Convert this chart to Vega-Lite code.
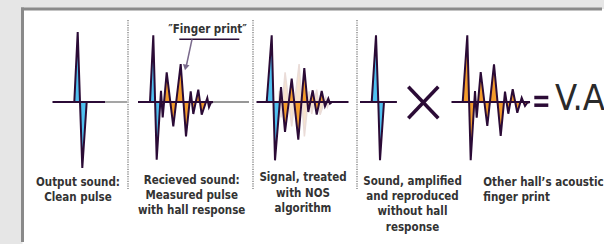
{
  "$schema": "https://vega.github.io/schema/vega-lite/v6.json",
  "width": 604,
  "height": 244,
  "autosize": {"type": "fit", "contains": "padding"},
  "padding": 0,
  "background": "#e6e6e6",
  "config": {"view": {"stroke": null}, "axis": {"disable": true}},
  "datasets": {
    "one": [{}],
    "waves": [
      {"w": "p1", "part": "direct", "t": 52.7, "a": 0},
      {"w": "p1", "part": "direct", "t": 74.3, "a": 0},
      {"w": "p1", "part": "direct", "t": 77.7, "a": 70},
      {"w": "p1", "part": "direct", "t": 80, "a": 0},
      {"w": "p1", "part": "direct", "t": 82.3, "a": -66},
      {"w": "p1", "part": "direct", "t": 86.7, "a": 0},
      {"w": "p1", "part": "direct", "t": 105, "a": 0},

      {"w": "p2", "part": "direct", "t": 138, "a": 0},
      {"w": "p2", "part": "direct", "t": 150, "a": 0},
      {"w": "p2", "part": "direct", "t": 153.3, "a": 66.6},
      {"w": "p2", "part": "direct", "t": 156.7, "a": -57.7},
      {"w": "p2", "part": "direct", "t": 160.3, "a": 0},
      {"w": "p2", "part": "reflection", "t": 160.3, "a": 0},
      {"w": "p2", "part": "reflection", "t": 161, "a": 11.3},
      {"w": "p2", "part": "reflection", "t": 162.7, "a": -15.4},
      {"w": "p2", "part": "reflection", "t": 166.7, "a": 29.6},
      {"w": "p2", "part": "reflection", "t": 173.3, "a": -24.4},
      {"w": "p2", "part": "reflection", "t": 180.7, "a": 38},
      {"w": "p2", "part": "reflection", "t": 186, "a": -34.4},
      {"w": "p2", "part": "reflection", "t": 190.7, "a": 10.6},
      {"w": "p2", "part": "reflection", "t": 193.3, "a": -12},
      {"w": "p2", "part": "reflection", "t": 198.3, "a": 12.3},
      {"w": "p2", "part": "reflection", "t": 201.7, "a": -12.7},
      {"w": "p2", "part": "reflection", "t": 207.3, "a": 4},
      {"w": "p2", "part": "reflection", "t": 209, "a": -5},
      {"w": "p2", "part": "reflection", "t": 211, "a": -0.4},
      {"w": "p2", "part": "reflection", "t": 213, "a": 0},

      {"w": "p3", "part": "direct", "t": 256.7, "a": 0},
      {"w": "p3", "part": "direct", "t": 266.7, "a": 0},
      {"w": "p3", "part": "direct", "t": 271.7, "a": 66.7},
      {"w": "p3", "part": "direct", "t": 275, "a": -58.3},
      {"w": "p3", "part": "direct", "t": 279.8, "a": 0},
      {"w": "p3", "part": "reflection", "t": 279.8, "a": 0},
      {"w": "p3", "part": "reflection", "t": 281, "a": 15},
      {"w": "p3", "part": "reflection", "t": 285, "a": -30},
      {"w": "p3", "part": "reflection", "t": 291.7, "a": 23.4},
      {"w": "p3", "part": "reflection", "t": 298.3, "a": -37.6},
      {"w": "p3", "part": "reflection", "t": 304.3, "a": 34},
      {"w": "p3", "part": "reflection", "t": 308.3, "a": -10},
      {"w": "p3", "part": "reflection", "t": 312.7, "a": 11.7},
      {"w": "p3", "part": "reflection", "t": 316.7, "a": -12.6},
      {"w": "p3", "part": "reflection", "t": 321.7, "a": 11},
      {"w": "p3", "part": "reflection", "t": 325, "a": -4.3},
      {"w": "p3", "part": "reflection", "t": 328.3, "a": 3.4},
      {"w": "p3", "part": "reflection", "t": 330, "a": -1.6},
      {"w": "p3", "part": "reflection", "t": 332, "a": 0},
      {"w": "p3", "part": "reflection", "t": 348.3, "a": 0},

      {"w": "p4", "part": "direct", "t": 360, "a": 0},
      {"w": "p4", "part": "direct", "t": 371.7, "a": 0},
      {"w": "p4", "part": "direct", "t": 376, "a": 66.7},
      {"w": "p4", "part": "direct", "t": 378.3, "a": 0},
      {"w": "p4", "part": "direct", "t": 380, "a": -58.3},
      {"w": "p4", "part": "direct", "t": 384, "a": 0},
      {"w": "p4", "part": "direct", "t": 396.7, "a": 0},

      {"w": "p5", "part": "reflection", "t": 451.7, "a": 0},
      {"w": "p5", "part": "reflection", "t": 462.7, "a": 0},
      {"w": "p5", "part": "reflection", "t": 467.3, "a": 66.7},
      {"w": "p5", "part": "reflection", "t": 470.7, "a": -58.3},
      {"w": "p5", "part": "reflection", "t": 475, "a": 11},
      {"w": "p5", "part": "reflection", "t": 476.7, "a": -15.7},
      {"w": "p5", "part": "reflection", "t": 480.7, "a": 30},
      {"w": "p5", "part": "reflection", "t": 487.3, "a": -24},
      {"w": "p5", "part": "reflection", "t": 494, "a": 37.7},
      {"w": "p5", "part": "reflection", "t": 500.7, "a": -34},
      {"w": "p5", "part": "reflection", "t": 505, "a": 10.3},
      {"w": "p5", "part": "reflection", "t": 508.3, "a": -11.7},
      {"w": "p5", "part": "reflection", "t": 512.7, "a": 12.7},
      {"w": "p5", "part": "reflection", "t": 517.3, "a": -10.7},
      {"w": "p5", "part": "reflection", "t": 521.7, "a": 4.3},
      {"w": "p5", "part": "reflection", "t": 525, "a": -4},
      {"w": "p5", "part": "reflection", "t": 527.3, "a": -0.7},
      {"w": "p5", "part": "reflection", "t": 530, "a": 0}
    ],
    "ghost": [
      {"t": 278.7, "a": 0},
      {"t": 279.4, "a": 11.3},
      {"t": 281.1, "a": -15.4},
      {"t": 285.1, "a": 29.6},
      {"t": 291.7, "a": -24.4},
      {"t": 299.1, "a": 38},
      {"t": 304.4, "a": -34.4},
      {"t": 309.1, "a": 10.6},
      {"t": 311.7, "a": -12},
      {"t": 316.7, "a": 12.3},
      {"t": 320.1, "a": -12.7},
      {"t": 325.7, "a": 4},
      {"t": 327.4, "a": -5},
      {"t": 329.4, "a": -0.4},
      {"t": 331.4, "a": 0}
    ],
    "baselines": [
      {"t": 52.7, "t2": 105, "kind": "dark"},
      {"t": 105, "t2": 127, "kind": "gray"},
      {"t": 138, "t2": 213, "kind": "dark"},
      {"t": 213, "t2": 249, "kind": "gray"},
      {"t": 256.7, "t2": 348.3, "kind": "dark"},
      {"t": 360, "t2": 396.7, "kind": "dark"},
      {"t": 451.7, "t2": 530, "kind": "dark"}
    ],
    "separators": [{"t": 128}, {"t": 253}, {"t": 357}],
    "symbols": [
      {"sym": "times", "t": 408.3, "a": 15.3, "t2": 438.3, "a2": -16.3},
      {"sym": "times", "t": 408.3, "a": -16.3, "t2": 438.3, "a2": 15.3},
      {"sym": "equals", "t": 534.3, "a": 4.5, "t2": 548.3, "a2": 4.5},
      {"sym": "equals", "t": 534.3, "a": -3.2, "t2": 548.3, "a2": -3.2}
    ],
    "labels": [
      {"text": "Output sound:", "t": 78, "a": -81},
      {"text": "Clean pulse", "t": 78, "a": -96},
      {"text": "Recieved sound:", "t": 191.7, "a": -79},
      {"text": "Measured pulse", "t": 191.7, "a": -94},
      {"text": "with hall response", "t": 191.7, "a": -109},
      {"text": "Signal, treated", "t": 303, "a": -76},
      {"text": "with NOS", "t": 303, "a": -91.5},
      {"text": "algorithm", "t": 303, "a": -107},
      {"text": "Sound, amplified", "t": 412.5, "a": -79.5},
      {"text": "and reproduced", "t": 412.5, "a": -94.5},
      {"text": "without hall", "t": 412.5, "a": -110},
      {"text": "response", "t": 412.5, "a": -125.5}
    ],
    "labelsLeft": [
      {"text": "Other hall’s acoustic", "t": 483.3, "a": -80.7},
      {"text": "finger print", "t": 483.3, "a": -95.7}
    ]
  },
  "layer": [
    {
      "data": {"name": "one"},
      "mark": {"type": "rect", "fill": "#ffffff"},
      "encoding": {
        "x": {"datum": 22.5, "type": "quantitative", "scale": {"domain": [0, 604], "nice": false, "zero": false}},
        "x2": {"datum": 604},
        "y": {"datum": 93, "type": "quantitative", "scale": {"domain": [-142, 102], "nice": false, "zero": false}},
        "y2": {"datum": -142}
      }
    },
    {
      "data": {"name": "one"},
      "mark": {"type": "rule", "stroke": "#8a8a8a", "strokeWidth": 3},
      "encoding": {
        "x": {"datum": 22.5, "type": "quantitative"},
        "y": {"datum": 94.5, "type": "quantitative"},
        "y2": {"datum": -140}
      }
    },
    {
      "data": {"name": "one"},
      "mark": {"type": "rule", "stroke": "#8a8a8a", "strokeWidth": 3},
      "encoding": {
        "x": {"datum": 21, "type": "quantitative"},
        "x2": {"datum": 602},
        "y": {"datum": 93, "type": "quantitative"}
      }
    },
    {
      "data": {"name": "separators"},
      "mark": {"type": "rule", "stroke": "#8c8c8c", "strokeWidth": 1.5, "strokeDash": [1.2, 1.2]},
      "encoding": {
        "x": {"field": "t", "type": "quantitative"},
        "y": {"datum": 82, "type": "quantitative"},
        "y2": {"datum": -87}
      }
    },
    {
      "data": {"name": "baselines"},
      "transform": [{"filter": "datum.kind === 'gray'"}],
      "mark": {"type": "rule", "stroke": "#747474", "strokeWidth": 1.3},
      "encoding": {
        "x": {"field": "t", "type": "quantitative"},
        "x2": {"field": "t2"},
        "y": {"datum": 0, "type": "quantitative"}
      }
    },
    {
      "data": {"name": "ghost"},
      "mark": {"type": "area", "fill": "#f7e2c9", "opacity": 0.95},
      "encoding": {
        "x": {"field": "t", "type": "quantitative"},
        "y": {"field": "a", "type": "quantitative"},
        "y2": {"datum": 0}
      }
    },
    {
      "data": {"name": "ghost"},
      "mark": {"type": "line", "stroke": "#eadcd8", "strokeWidth": 1.5},
      "encoding": {
        "x": {"field": "t", "type": "quantitative"},
        "y": {"field": "a", "type": "quantitative"}
      }
    },
    {
      "data": {"name": "waves"},
      "mark": {"type": "area"},
      "encoding": {
        "x": {"field": "t", "type": "quantitative"},
        "y": {"field": "a", "type": "quantitative"},
        "y2": {"datum": 0},
        "detail": [{"field": "w"}, {"field": "part"}],
        "fill": {"field": "part", "type": "nominal", "scale": {"domain": ["direct", "reflection"], "range": ["#4fc1f0", "#f49c2c"]}, "legend": null}
      }
    },
    {
      "data": {"name": "baselines"},
      "transform": [{"filter": "datum.kind === 'dark'"}],
      "mark": {"type": "rule", "stroke": "#2b0b36", "strokeWidth": 2},
      "encoding": {
        "x": {"field": "t", "type": "quantitative"},
        "x2": {"field": "t2"},
        "y": {"datum": 0, "type": "quantitative"}
      }
    },
    {
      "data": {"name": "waves"},
      "mark": {"type": "line", "stroke": "#2b0b36", "strokeWidth": 2, "strokeJoin": "miter"},
      "encoding": {
        "x": {"field": "t", "type": "quantitative"},
        "y": {"field": "a", "type": "quantitative"},
        "detail": {"field": "w"}
      }
    },
    {
      "data": {"name": "symbols"},
      "mark": {"type": "rule", "stroke": "#2b0b36", "strokeWidth": 3.5},
      "encoding": {
        "x": {"field": "t", "type": "quantitative"},
        "x2": {"field": "t2"},
        "y": {"field": "a", "type": "quantitative"},
        "y2": {"field": "a2"}
      }
    },
    {
      "data": {"name": "one"},
      "mark": {"type": "rule", "stroke": "#2b0b36", "strokeWidth": 1.5},
      "encoding": {
        "x": {"datum": 179.3, "type": "quantitative"},
        "x2": {"datum": 239.3},
        "y": {"datum": 62.7, "type": "quantitative"}
      }
    },
    {
      "data": {"name": "one"},
      "mark": {"type": "rule", "stroke": "#7a6a8c", "strokeWidth": 1.5},
      "encoding": {
        "x": {"datum": 192, "type": "quantitative"},
        "x2": {"datum": 186.3},
        "y": {"datum": 62.7, "type": "quantitative"},
        "y2": {"datum": 36}
      }
    },
    {
      "data": {"name": "one"},
      "mark": {"type": "point", "shape": "triangle-down", "filled": true, "fill": "#7a6a8c", "opacity": 1, "size": 45, "angle": 12},
      "encoding": {
        "x": {"datum": 185.6, "type": "quantitative"},
        "y": {"datum": 34.5, "type": "quantitative"}
      }
    },
    {
      "data": {"name": "labels"},
      "mark": {"type": "text", "font": "'DejaVu Sans Condensed', 'Liberation Sans Narrow', Roboto, sans-serif", "fontWeight": "bold", "fontSize": 11.5, "fill": "#333333", "align": "center", "baseline": "middle"},
      "encoding": {
        "x": {"field": "t", "type": "quantitative"},
        "y": {"field": "a", "type": "quantitative"},
        "text": {"field": "text"}
      }
    },
    {
      "data": {"name": "labelsLeft"},
      "mark": {"type": "text", "font": "'DejaVu Sans Condensed', 'Liberation Sans Narrow', Roboto, sans-serif", "fontWeight": "bold", "fontSize": 11.5, "fill": "#333333", "align": "left", "baseline": "middle"},
      "encoding": {
        "x": {"field": "t", "type": "quantitative"},
        "y": {"field": "a", "type": "quantitative"},
        "text": {"field": "text"}
      }
    },
    {
      "data": {"name": "one"},
      "mark": {"type": "text", "font": "'DejaVu Sans Condensed', 'Liberation Sans Narrow', Roboto, sans-serif", "fontWeight": "bold", "fontSize": 11.5, "fill": "#333333", "align": "center", "baseline": "middle", "text": "″Finger print″"},
      "encoding": {
        "x": {"datum": 207.5, "type": "quantitative"},
        "y": {"datum": 72, "type": "quantitative"}
      }
    },
    {
      "data": {"name": "one"},
      "mark": {"type": "text", "font": "'DejaVu Sans Condensed', 'Liberation Sans Narrow', Roboto, sans-serif", "fontSize": 36, "fill": "#2a2a2a", "align": "left", "baseline": "alphabetic", "text": "V.A.R.", "clip": true},
      "encoding": {
        "x": {"datum": 555, "type": "quantitative"},
        "y": {"datum": -8, "type": "quantitative"}
      }
    }
  ]
}
